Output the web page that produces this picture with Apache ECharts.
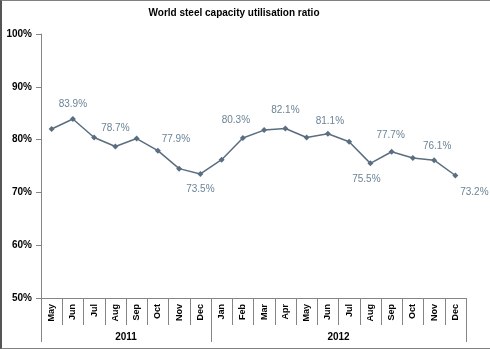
<!DOCTYPE html>
<html>
<head>
<meta charset="utf-8">
<script src="https://cdn.jsdelivr.net/npm/echarts@6/dist/echarts.min.js"></script>
<style>
html,body{margin:0;padding:0;background:#fff;}
#c{position:absolute;left:0;top:0;width:488px;height:347px;border:1px solid #808080;border-left:2px solid #555;box-sizing:content-box;}
</style>
</head>
<body>
<div id="c"></div>
<script>
const months = ['May','Jun','Jul','Aug','Sep','Oct','Nov','Dec','Jan','Feb','Mar','Apr','May','Jun','Jul','Aug','Sep','Oct','Nov','Dec'];
const values = [82.0,83.9,80.4,78.7,80.2,77.9,74.5,73.5,76.2,80.3,81.8,82.1,80.4,81.1,79.6,75.5,77.7,76.5,76.1,73.2];
const years = ['2011','2012'];
const yearMonthCounts = [8,12];
const yTicks = [50,60,70,80,90,100];
const labelledPoints = [1,3,5,7,9,11,13,15,16,18,19];

// label placement (style only)
const labelPlacement = {
  1:['top',[0,-2]], 3:['top',[0,-5]], 5:['top',[18,2]], 7:['bottom',[0,2]],
  9:['top',[-7,-5]], 11:['top',[0,-5]], 13:['top',[2,0]], 15:['bottom',[-4,3]],
  16:['top',[-1,-3]], 18:['top',[3,-1]], 19:['bottom',[19,4]]
};

const yearBounds = [0];
yearMonthCounts.forEach(n => yearBounds.push(yearBounds[yearBounds.length-1] + n));
const yearMids = years.map((y,i) => (yearBounds[i] + yearBounds[i+1]) / 2);

const seriesData = values.map((v,i) => {
  const item = {value: v};
  if (labelledPoints.includes(i)) {
    const p = labelPlacement[i];
    item.label = {show: true, position: p[0], offset: p[1]};
  }
  return item;
});

const axisColor = '#858585';
const chart = echarts.init(document.getElementById('c'), null, {renderer:'canvas'});
chart.setOption({
  animation: false,
  backgroundColor: '#fff',
  title: {
    text: 'World steel capacity utilisation ratio',
    left: 227, top: 2, textAlign: 'center',
    textStyle: {fontFamily: 'Liberation Sans, Arial', fontWeight: 'bold', fontSize: 10, color: '#000'}
  },
  grid: {left: 39, right: 24, top: 33, bottom: 50, containLabel: false},
  xAxis: [{
    type: 'category',
    data: months,
    boundaryGap: true,
    axisLine: {lineStyle: {color: axisColor}},
    axisTick: {show: true, interval: 0, length: 27, lineStyle: {color: axisColor}},
    axisLabel: {interval: 0, rotate: 90, margin: 6, fontFamily: 'Liberation Sans, Arial', fontWeight: 'bold', fontSize: 9, color: '#000'}
  },{
    type: 'value',
    min: 0, max: yearBounds[yearBounds.length-1],
    position: 'bottom',
    axisLine: {show: false},
    splitLine: {show: false},
    axisTick: {show: true, customValues: yearBounds, length: 44, lineStyle: {color: axisColor}},
    axisLabel: {
      customValues: yearMids, margin: 34,
      formatter: v => years[yearMids.indexOf(v)],
      fontFamily: 'Liberation Sans, Arial', fontWeight: 'bold', fontSize: 10, color: '#000'
    }
  }],
  yAxis: {
    type: 'value', min: yTicks[0], max: yTicks[yTicks.length-1], interval: 10,
    axisLine: {show: true, lineStyle: {color: axisColor}},
    axisTick: {show: true, length: 5, lineStyle: {color: axisColor}},
    splitLine: {show: false},
    axisLabel: {margin: 9, formatter: '{value}%', fontFamily: 'Liberation Sans, Arial', fontWeight: 'bold', fontSize: 10, color: '#000'}
  },
  series: [{
    type: 'line',
    xAxisIndex: 0,
    data: seriesData,
    symbol: 'diamond', symbolSize: 6,
    lineStyle: {color: '#5a6e80', width: 1.5},
    itemStyle: {color: '#5a6e80'},
    label: {show: false, distance: 5, formatter: p => p.value.toFixed(1) + '%', fontFamily: 'Liberation Sans, Arial', fontSize: 10, color: '#6b8396'}
  }]
});
</script>
</body>
</html>
